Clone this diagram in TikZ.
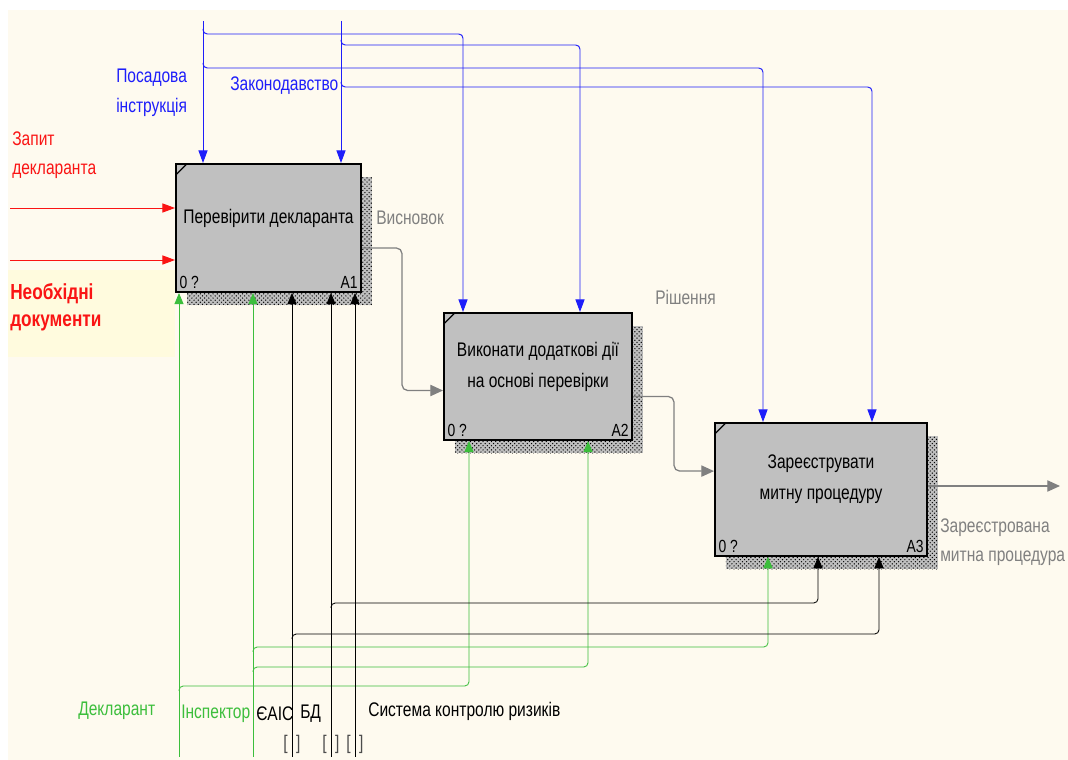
\documentclass[tikz,border=0pt]{standalone}
\usepackage{fontspec}
\setmainfont{Liberation Sans}[FakeStretch=0.79]
\usetikzlibrary{positioning,arrows.meta,shadows,patterns}

\definecolor{paper}{RGB}{254,250,239}
\definecolor{notefill}{RGB}{255,251,222}
\definecolor{boxgray}{RGB}{192,192,192}
\definecolor{ctrlblue}{RGB}{30,30,250}
\definecolor{inred}{RGB}{250,20,20}
\definecolor{mechgreen}{RGB}{60,190,60}
\definecolor{outgray}{RGB}{128,128,128}

\begin{document}
\begin{tikzpicture}[
    x=0.025cm, y=-0.025cm,
    activity/.style={
        rectangle,
        draw=black,
        line width=1.4pt,
        fill=boxgray,
        anchor=north west,
        drop shadow={shadow xshift=0.27cm, shadow yshift=-0.33cm, opacity=1, fill=black!25},
        drop shadow={shadow xshift=0.27cm, shadow yshift=-0.33cm, opacity=1, pattern=crosshatch dots, pattern color=black},
        path picture={\draw[line width=0.8pt] ([yshift=-0.27cm]path picture bounding box.north west) -- ([xshift=0.27cm]path picture bounding box.north west);}
    },
    boxtitle/.style={
        font=\fontsize{14}{22}\selectfont,
        align=center,
        yshift=0.25cm
    },
    boxnum/.style={
        font=\fontsize{12.5}{13}\selectfont,
        inner sep=3pt
    },
    arrowtext/.style={
        font=\fontsize{14}{21}\selectfont,
        align=left,
        anchor=west,
        inner sep=0pt
    },
    tunnel/.style={
        font=\fontsize{14}{14}\selectfont,
        text=black!70,
        inner sep=0pt
    },
    ctrl/.style={draw=ctrlblue, line width=0.7pt, rounded corners=3pt, -{Triangle[length=9pt,width=6.5pt]}},
    inp/.style={draw=inred, line width=0.7pt, -{Triangle[length=9pt,width=6.5pt]}},
    mech/.style={draw=mechgreen, line width=0.6pt, rounded corners=3pt, -{Triangle[length=8pt,width=6.5pt]}},
    tool/.style={draw=black, line width=0.6pt, rounded corners=3pt, -{Triangle[length=8pt,width=6.5pt]}},
    outp/.style={draw=outgray, line width=0.9pt, rounded corners=4pt, -{Triangle[length=9pt,width=8pt]}}
]

    \useasboundingbox (0,0) rectangle (1068,760);

    % --- SHEET ---
    \fill[paper] (8,10) rectangle (1068,760);
    \fill[notefill] (8,270) rectangle (175,357);

    % --- ACTIVITIES ---
    \node [activity, minimum width=4.625cm, minimum height=3.2cm,
           label={[boxtitle]center:Перевірити декларанта},
           label={[boxnum, anchor=south west]south west:0 ?},
           label={[boxnum, anchor=south east]south east:A1}] (A1) at (175,163) {};

    \node [activity, minimum width=4.7cm, minimum height=3.175cm,
           label={[boxtitle]center:{Виконати додаткові дії\\на основі перевірки}},
           label={[boxnum, anchor=south west]south west:0 ?},
           label={[boxnum, anchor=south east]south east:A2}] (A2) at (443,312) {};

    \node [activity, minimum width=5.3cm, minimum height=3.325cm,
           label={[boxtitle]center:{Зареєструвати\\митну процедуру}},
           label={[boxnum, anchor=south west]south west:0 ?},
           label={[boxnum, anchor=south east]south east:A3}] (A3) at (714,422) {};

    % --- CONTROLS ---
    \coordinate (posada) at (203,21);
    \coordinate (zakon) at (341,21);

    \draw [ctrl] (posada) -- (posada |- A1.north);
    \draw [ctrl] (zakon) -- (zakon |- A1.north);
    \draw [ctrl] (posada) ++(0,8) |- ++(260,5) coordinate (c1) -- (c1 |- A2.north);
    \draw [ctrl] (zakon) ++(0,19) |- ++(239,5) coordinate (c2) -- (c2 |- A2.north);
    \draw [ctrl] (posada) ++(0,42) |- ++(560,5) coordinate (c3) -- (c3 |- A3.north);
    \draw [ctrl] (zakon) ++(0,61) |- ++(531,5) coordinate (c4) -- (c4 |- A3.north);

    % --- INPUTS ---
    \coordinate (zapyt) at (10,208);
    \coordinate (dokum) at (10,260);

    \draw [inp] (zapyt) -- (zapyt -| A1.west);
    \draw [inp] (dokum) -- (dokum -| A1.west);

    % --- OUTPUTS ---
    \coordinate (vyhid) at (1060,486);

    \draw [outp] ([yshift=-0.5cm]A1.east) -- ++(40,0) |- ([yshift=-0.35cm]A2.west);
    \draw [outp] ([yshift=-0.5cm]A2.east) -- ++(41,0) |- ([yshift=0.46cm]A3.west);
    \draw [outp] (A3.east |- vyhid) -- (vyhid);

    % --- MECHANISMS ---
    \coordinate (deklarant) at (179,757);
    \coordinate (inspektor) at (253,757);
    \coordinate (eais) at (292,757);
    \coordinate (bd) at (331,757);
    \coordinate (ryzyk) at (355,757);

    \draw [mech] (deklarant) -- (deklarant |- A1.south);
    \draw [mech] (deklarant) ++(0,-66) |- ++(290,-5) coordinate (m1) -- (m1 |- A2.south);
    \draw [mech] (inspektor) -- (inspektor |- A1.south);
    \draw [mech] (inspektor) ++(0,-85) |- ++(335,-5) coordinate (m2) -- (m2 |- A2.south);
    \draw [mech] (inspektor) ++(0,-105) |- ++(515,-5) coordinate (m3) -- (m3 |- A3.south);
    \draw [tool] (eais) -- (eais |- A1.south);
    \draw [tool] (eais) ++(0,-118) |- ++(587,-5) coordinate (m4) -- (m4 |- A3.south);
    \draw [tool] (bd) -- (bd |- A1.south);
    \draw [tool] (bd) ++(0,-149) |- ++(487,-5) coordinate (m5) -- (m5 |- A3.south);
    \draw [tool] (ryzyk) -- (ryzyk |- A1.south);

    % --- LABELS ---
    \node [arrowtext, text=inred] (zapytL) at (12,155) {Запит\\декларанта};
    \node [arrowtext, text=inred, font=\fontsize{15.5}{19}\selectfont\bfseries] (dokumL) at (10,307) {Необхідні\\документи};
    \node [arrowtext, text=ctrlblue] (posadaL) at (116,93) {Посадова\\інструкція};
    \node [arrowtext, text=ctrlblue] (zakonL) at (230,86) {Законодавство};
    \node [arrowtext, text=outgray] (vysnL) at (376,218) {Висновок};
    \node [arrowtext, text=outgray] (rishL) at (655,297) {Рішення};
    \node [arrowtext, text=outgray] (vyhidL) at (940,542) {Зареєстрована\\митна процедура};
    \node [arrowtext, text=mechgreen] (deklL) at (78,711) {Декларант};
    \node [arrowtext, text=mechgreen] (inspL) at (181,714) {Інспектор};
    \node [arrowtext] (eaisL) at (256,714) {ЄАІС};
    \node [arrowtext] (bdL) at (300,714) {БД};
    \node [arrowtext] (ryzykL) at (368,711) {Система контролю ризиків};

    % tunnel brackets
    \node [tunnel] (eaisT) at (292,744) {[\hspace{6pt}]};
    \node [tunnel] (bdT) at (331,744) {[\hspace{6pt}]};
    \node [tunnel] (ryzykT) at (355,744) {[\hspace{6pt}]};

\end{tikzpicture}
\end{document}
